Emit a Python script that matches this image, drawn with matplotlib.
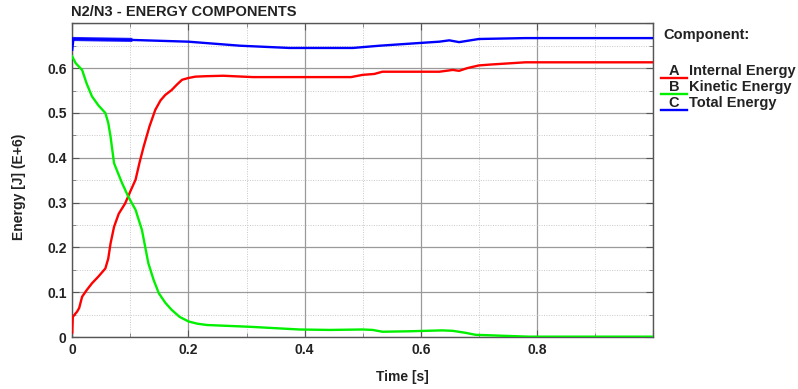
import matplotlib
matplotlib.use("Agg")
import matplotlib.pyplot as plt
from matplotlib.ticker import MultipleLocator, FixedLocator
from matplotlib.lines import Line2D

plt.rcParams['font.family'] = ['Liberation Sans', 'DejaVu Sans']

# Energy components over time (values in E+6 J)
t_internal = [0, 0.001, 0.004, 0.0085, 0.012, 0.017, 0.025, 0.034, 0.045, 0.057,
              0.062, 0.066, 0.072, 0.08, 0.091, 0.1, 0.109, 0.116, 0.123, 0.133,
              0.143, 0.152, 0.160, 0.171, 0.18, 0.189, 0.2, 0.212, 0.23, 0.26,
              0.311, 0.4, 0.48, 0.5, 0.52, 0.534, 0.597, 0.632, 0.655, 0.666,
              0.68, 0.70, 0.72, 0.78, 0.85, 1.0]
internal_energy = [0.01, 0.045, 0.05, 0.057, 0.065, 0.09, 0.105, 0.12, 0.135, 0.153,
                   0.175, 0.209, 0.246, 0.275, 0.298, 0.325, 0.351, 0.39, 0.425, 0.47,
                   0.507, 0.528, 0.54, 0.551, 0.563, 0.574, 0.578, 0.581, 0.582, 0.583,
                   0.58, 0.58, 0.58, 0.585, 0.587, 0.592, 0.592, 0.592, 0.596, 0.594,
                   0.6, 0.606, 0.608, 0.613, 0.613, 0.613]

t_kinetic = [0, 0.006, 0.017, 0.025, 0.034, 0.045, 0.057, 0.062, 0.066, 0.072,
             0.08, 0.086, 0.097, 0.109, 0.12, 0.131, 0.14, 0.149, 0.16, 0.171,
             0.185, 0.2, 0.215, 0.232, 0.306, 0.391, 0.443, 0.5, 0.517, 0.534,
             0.58, 0.637, 0.655, 0.675, 0.695, 0.72, 0.74, 0.786, 1.0]
kinetic_energy = [0.626, 0.611, 0.596, 0.565, 0.537, 0.517, 0.5, 0.478, 0.447, 0.388,
                  0.362, 0.343, 0.312, 0.284, 0.239, 0.165, 0.128, 0.098, 0.077, 0.061,
                  0.045, 0.035, 0.03, 0.027, 0.023, 0.017, 0.016, 0.017, 0.016, 0.012,
                  0.013, 0.015, 0.014, 0.01, 0.005, 0.004, 0.003, 0.001, 0.001]

t_total = [0, 0.002, 0.05, 0.1, 0.2, 0.289, 0.374, 0.483, 0.529, 0.597,
           0.632, 0.649, 0.666, 0.70, 0.78, 1.0]
total_energy = [0.641, 0.665, 0.664, 0.663, 0.659, 0.650, 0.645, 0.645, 0.650, 0.656,
                0.659, 0.662, 0.658, 0.665, 0.667, 0.667]

x_ticks = [0, 0.2, 0.4, 0.6, 0.8]
x_tick_labels = ["0", "0.2", "0.4", "0.6", "0.8"]
y_ticks = [0, 0.1, 0.2, 0.3, 0.4, 0.5, 0.6]
y_tick_labels = ["0", "0.1", "0.2", "0.3", "0.4", "0.5", "0.6"]

legend_letters = ["A", "B", "C"]
legend_names = ["Internal Energy", "Kinetic Energy", "Total Energy"]
colors = ["#ff0000", "#00f000", "#0000ff"]

fig = plt.figure(figsize=(7.98, 3.89), dpi=100)
ax = fig.add_axes([0.0905, 0.1334, 0.728, 0.8067])

ax.plot(t_internal, internal_energy, color=colors[0], lw=1.7, zorder=3)
ax.plot(t_kinetic, kinetic_energy, color=colors[1], lw=1.7, zorder=3)
ax.plot(t_total, total_energy, color=colors[2], lw=1.7, zorder=3)
# early oscillation of the total energy drawn as a slightly wider band
ax.plot(t_total[1:4], total_energy[1:4], color=colors[2], lw=3.0, alpha=0.85, zorder=3)

ax.set_xlim(0, 1.0)
ax.set_ylim(0, 0.7)

ax.xaxis.set_major_locator(FixedLocator(x_ticks + [1.0]))
ax.xaxis.set_minor_locator(MultipleLocator(0.1))
ax.yaxis.set_major_locator(FixedLocator(y_ticks + [0.7]))
ax.yaxis.set_minor_locator(MultipleLocator(0.05))
ax.set_xticklabels(x_tick_labels + [""])
ax.set_yticklabels(y_tick_labels + [""])

for lab in ax.get_xticklabels() + ax.get_yticklabels():
    lab.set_fontweight("bold")
    lab.set_fontsize(10)
    lab.set_color("#222222")

ax.tick_params(which="major", direction="in", length=5, width=0.8, color="#555555",
               top=True, right=True, pad=4)
ax.tick_params(which="minor", direction="in", length=3, width=0.6, color="#777777",
               top=True, right=True)

ax.grid(which="major", color="#9a9a9a", lw=0.9, ls="-", zorder=1)
ax.grid(which="minor", color="#c8c8c8", lw=0.7, ls=(0, (1, 1.5)), zorder=1)
for sp in ax.spines.values():
    sp.set_color("#555555")
    sp.set_linewidth(1.0)

fig.text(0.0895, 0.952, "N2/N3 - ENERGY COMPONENTS", fontsize=10.5, fontweight="bold",
         color="#222222", ha="left", va="bottom")
fig.text(0.024, 0.52, "Energy [J] (E+6)", fontsize=10, fontweight="bold",
         color="#222222", rotation=90, ha="center", va="center")
fig.text(0.504, 0.03, "Time [s]", fontsize=10, fontweight="bold",
         color="#222222", ha="center", va="center")

# Legend block to the right of the axes
fig.text(0.831, 0.91, "Component:", fontsize=10.5, fontweight="bold",
         color="#222222", ha="left", va="center")
y_rows = [0.818, 0.776, 0.734]
for letter, name, c, yr in zip(legend_letters, legend_names, colors, y_rows):
    fig.add_artist(Line2D([0.828, 0.861], [yr - 0.018, yr - 0.018], color=c, lw=1.7,
                          transform=fig.transFigure))
    fig.text(0.838, yr, letter, fontsize=10.5, fontweight="bold", color="#222222",
             ha="left", va="center")
    fig.text(0.863, yr, name, fontsize=10.5, fontweight="bold", color="#222222",
             ha="left", va="center")

fig.savefig("out.png", dpi=100)
